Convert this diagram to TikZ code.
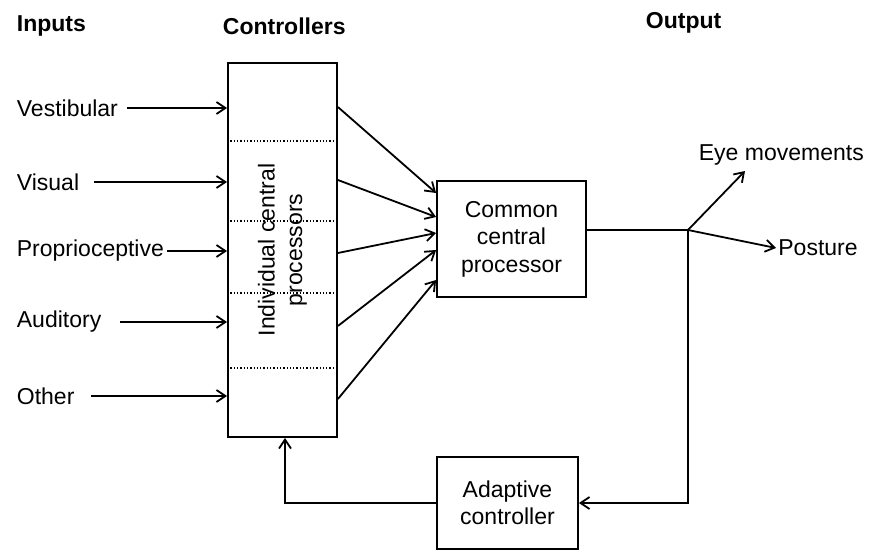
\documentclass[tikz,border=0pt]{standalone}
\usepackage{fontspec}
\setmainfont{Liberation Sans}
\usetikzlibrary{positioning,arrows.meta}

\begin{document}
\begin{tikzpicture}[x=1pt,y=-1pt,line width=1.8pt,
  >={Straight Barb[length=9pt,width=12pt]},
  font=\fontsize{23}{27.5}\selectfont,
  lbl/.style={anchor=west,inner sep=0pt},
  head/.style={anchor=west,inner sep=0pt,font=\fontsize{23}{27.5}\selectfont\bfseries},
  blk/.style={draw,inner sep=0pt,align=center}]
  \useasboundingbox (0,0) rectangle (871,551);

  \node (hin) [head] at (16,26) {Inputs};
  \node (hctl) [head] at (222,26) {Controllers};
  \node (hout) [head] at (645,23) {Output};

  \node (ctrl) [blk,minimum width=109pt,minimum height=374pt] at (282.5,250) {};
  \foreach \y in {141,221,293,368}
    \draw[dotted,line width=1.3pt] (ctrl.west |- 0,\y) -- (ctrl.east |- 0,\y);
  \node (icp) [rotate=90,align=center,inner sep=0pt] at (ctrl.center) {Individual central\\processors};

  \node (vest) [lbl] at (16,108) {Vestibular};
  \node (vis) [lbl] at (16,182) {Visual};
  \node (prop) [lbl] at (16,251) {Proprioceptive};
  \node (aud) [lbl] at (16,322) {Auditory};
  \node (oth) [lbl] at (16,396) {Other};
  \foreach \n/\g in {vest/8,vis/14,prop/2,aud/18,oth/16}
    \draw[->] ([xshift=\g pt]\n.east) -- (\n.east -| ctrl.west);

  \node (ccp) [blk,minimum width=149pt,minimum height=116pt] at (511.5,239) {Common\\central\\processor};
  \foreach \a/\b in {107/193,180/217,253/233,326/250,399/280}
    \draw[->] (ctrl.east |- 0,\a) -- (ccp.west |- 0,\b);

  \coordinate (junc) at (688,230);
  \coordinate (eyetip) at (745,171);
  \node (eye) [lbl] at (698,155) {Eye movements};
  \node (post) [lbl,inner sep=1.5pt] at (776,248) {Posture};
  \draw (ccp.east |- junc) -- (junc);
  \draw[->] (junc) -- (eyetip);
  \draw[->] (junc) -- (post.west);

  \node (adc) [blk,minimum width=141pt,minimum height=92pt] at (507.5,503) {Adaptive\\controller};
  \draw[->] (junc) -- (junc |- adc.east) -- (adc.east);
  \draw[->] (adc.west) -| ([xshift=2.5pt]ctrl.south);
\end{tikzpicture}
\end{document}
